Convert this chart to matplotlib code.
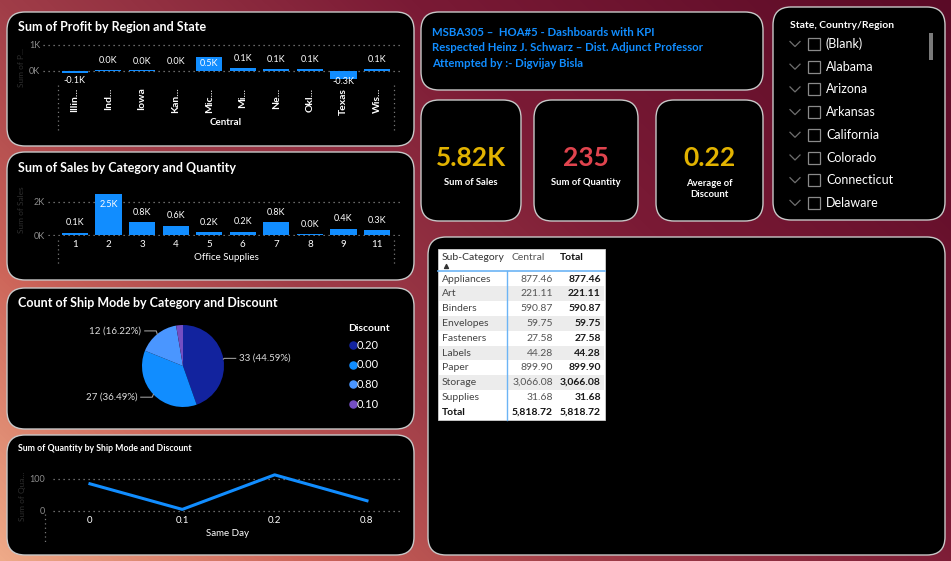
import numpy as np
import matplotlib
matplotlib.use('Agg')
import matplotlib.pyplot as plt
from matplotlib.patches import FancyBboxPatch, Rectangle
from matplotlib.colors import LinearSegmentedColormap

plt.rcParams['font.family'] = ['Lato', 'DejaVu Sans']

W, H = 951, 561
BLUE = '#118DFF'

# ---- data ----
states = ['Illin...', 'Ind...', 'Iowa', 'Kan...', 'Mic...', 'Mi...', 'Ne...', 'Okl...', 'Texas', 'Wis...']
profit_k = [-0.06, 0.03, 0.02, 0.01, 0.54, 0.13, 0.07, 0.08, -0.30, 0.07]

quantity = ['1', '2', '3', '4', '5', '6', '7', '8', '9', '11']
sales_k = [0.12, 2.48, 0.78, 0.57, 0.17, 0.20, 0.78, 0.04, 0.39, 0.29]

discounts = ['0.20', '0.00', '0.80', '0.10']
ship_counts = [33, 27, 12, 2]
disc_colors = ['#12239E', '#118DFF', '#4A96FF', '#744EC2']

line_disc = ['0', '0.1', '0.2', '0.8']
line_qty = [85, 5, 113, 32]

kpi_values = ['5.82K', '235', '0.22']
kpi_labels = ['Sum of Sales', 'Sum of Quantity', 'Average of\nDiscount']
kpi_colors = ['#E2B300', '#E0444E', '#E2B300']

header_lines = ['MSBA305 \u2013  HOA#5 - Dashboards with KPI',
                'Respected Heinz J. Schwarz \u2013 Dist. Adjunct Professor',
                'Attempted by :- Digvijay Bisla']

slicer_items = ['(Blank)', 'Alabama', 'Arizona', 'Arkansas', 'California',
                'Colorado', 'Connecticut', 'Delaware']

sub_cats = ['Appliances', 'Art', 'Binders', 'Envelopes', 'Fasteners',
            'Labels', 'Paper', 'Storage', 'Supplies']
central = [877.46, 221.11, 590.87, 59.75, 27.58, 44.28, 899.90, 3066.08, 31.68]
grand_total = 5818.72

fig = plt.figure(figsize=(W / 100, H / 100), dpi=100)

# background in pixel coordinates
bg = fig.add_axes([0, 0, 1, 1])
bg.set_xlim(0, W)
bg.set_ylim(H, 0)
bg.axis('off')
yy, xx = np.mgrid[0:H, 0:W]
t = 0.62 * xx / W + 0.38 * (1 - yy / H)
cmap = LinearSegmentedColormap.from_list(
    'bg', [(0, '#eeaa88'), (0.2, '#cc6459'), (0.38, '#a03d48'), (0.65, '#7a1a35'), (1, '#5a0a26')])
bg.imshow(t, cmap=cmap, extent=[0, W, H, 0], aspect='auto', zorder=0)


def panel(x0, y0, x1, y1, r=18):
    bg.add_patch(FancyBboxPatch((x0, y0), x1 - x0, y1 - y0,
                                boxstyle=f'round,pad=0,rounding_size={r}',
                                fc='black', ec='#c8c8c8', lw=1.0, zorder=2))


def px_axes(x0, y0, x1, y1):
    ax = fig.add_axes([x0 / W, 1 - y1 / H, (x1 - x0) / W, (y1 - y0) / H])
    ax.set_facecolor('none')
    for s in ax.spines.values():
        s.set_visible(False)
    return ax


def dotted_v(x, y0, y1):
    bg.plot([x, x], [y0, y1], ls=(0, (1, 2.5)), color='#777777', lw=0.9, zorder=3)


panel(7, 12, 414, 146)
panel(7, 152, 414, 280)
panel(7, 288, 414, 429)
panel(7, 435, 414, 555)
panel(421, 12, 763, 90)
panel(421, 100, 521, 221)
panel(534, 100, 638, 221)
panel(656, 100, 763, 221)
panel(773, 7, 945, 220)
panel(428, 237, 945, 555)

# ---- profit by state ----
bg.text(18, 27, 'Sum of Profit by Region and State', color='white', fontsize=9,
        fontweight='bold', va='center', zorder=4)
ax1 = px_axes(43, 40, 403, 80)
x = np.arange(len(states))
ax1.bar(x, profit_k, width=0.78, color=BLUE, zorder=3)
ax1.set_xlim(-0.946, 9.77)
ax1.set_ylim(-0.346, 1.19)
for g in [0, 1]:
    ax1.axhline(g, color='#8a8a8a', ls=(0, (1, 3)), lw=0.9, zorder=1)
ax1.set_yticks([0, 1], ['0K', '1K'])
ax1.tick_params(axis='y', length=0, pad=2, labelsize=6.5, labelcolor='#8c8c8c')
ax1.set_xticks(x, states, rotation=90, fontweight='bold')
ax1.tick_params(axis='x', length=0, pad=5.5, labelsize=7.5, labelcolor='white')
for xi, v in zip(x, profit_k):
    lab = f'{v:.1f}K'
    if v > 0.3:
        ax1.annotate(lab, (xi, v), xytext=(0, -1.5), textcoords='offset points',
                     ha='center', va='top', color='white', fontsize=6.5)
    elif v >= 0:
        ax1.annotate(lab, (xi, v), xytext=(0, 3.5), textcoords='offset points',
                     ha='center', va='bottom', color='white', fontsize=6.5)
    else:
        ax1.text(xi, max(v - 0.32, -0.386), lab, ha='center', va='center',
                 color='white', fontsize=6.5)
bg.text(226, 122, 'Central', color='white', fontsize=7, fontweight='bold',
        ha='center', va='center', zorder=4)
dotted_v(58, 85, 130)
dotted_v(394, 85, 130)
bg.text(22, 67, 'Sum of P...', rotation=90, color='#2e2e2e', fontsize=6,
        ha='center', va='center', zorder=4)

# ---- sales by quantity ----
bg.text(18, 168, 'Sum of Sales by Category and Quantity', color='white', fontsize=9,
        fontweight='bold', va='center', zorder=4)
ax2 = px_axes(48, 185, 403, 236)
ax2.bar(x, sales_k, width=0.78, color=BLUE, zorder=3)
ax2.set_xlim(-0.80, 9.77)
ax2.set_ylim(-0.06, 3.03)
for g in [0, 2]:
    ax2.axhline(g, color='#8a8a8a', ls=(0, (1, 3)), lw=0.9, zorder=1)
ax2.set_yticks([0, 2], ['0K', '2K'])
ax2.tick_params(axis='y', length=0, pad=2, labelsize=6.5, labelcolor='#8c8c8c')
ax2.set_xticks(x, quantity)
ax2.tick_params(axis='x', length=0, pad=3, labelsize=7, labelcolor='white')
for xi, v in zip(x, sales_k):
    lab = f'{v:.1f}K'
    if v > 2:
        ax2.annotate(lab, (xi, v), xytext=(0, -4), textcoords='offset points',
                     ha='center', va='top', color='white', fontsize=6.5)
    else:
        ax2.annotate(lab, (xi, v), xytext=(0, 4), textcoords='offset points',
                     ha='center', va='bottom', color='white', fontsize=6.5)
bg.text(226, 257, 'Office Supplies', color='white', fontsize=7,
        ha='center', va='center', zorder=4)
dotted_v(58, 240, 265)
dotted_v(394, 240, 265)
bg.text(22, 210, 'Sum of Sales', rotation=90, color='#2e2e2e', fontsize=6,
        ha='center', va='center', zorder=4)

# ---- pie ----
bg.text(18, 303, 'Count of Ship Mode by Category and Discount', color='white', fontsize=9,
        fontweight='bold', va='center', zorder=4)
ax4 = px_axes(133, 316, 233, 416)
lim = 50 / 41
ax4.set_xticks([])
ax4.set_yticks([])
wedges, _ = ax4.pie(ship_counts, colors=disc_colors, startangle=90, counterclock=False,
                    radius=1, wedgeprops=dict(lw=0))
total = sum(ship_counts)
for w, c in zip(wedges[:3], ship_counts[:3]):
    ang = np.deg2rad((w.theta1 + w.theta2) / 2)
    px, py = np.cos(ang), np.sin(ang)
    side = 1 if px > 0 else -1
    ex, ey = 1.04 * px, 1.1 * py
    if side > 0:
        ex = 1.0 * px + 0.02
    hx = ex + side * 0.28
    ax4.plot([px, ex, hx], [py, ey, ey], color='#9a9a9a', lw=0.8, clip_on=False)
    ax4.text(hx + side * 0.08, ey, f'{c} ({c / total * 100:.2f}%)', color='#dddddd',
             fontsize=7, ha='left' if side > 0 else 'right', va='center', clip_on=False)
ax4.set_xlim(-lim, lim)
ax4.set_ylim(-lim, lim)
bg.text(348, 328, 'Discount', color='white', fontsize=7.5, fontweight='bold',
        va='center', zorder=4)
for i, (d, col) in enumerate(zip(discounts, disc_colors)):
    yi = 345 + i * 19.7
    bg.scatter([353], [yi], s=26, color=col, zorder=4)
    bg.text(357, yi, d, color='white', fontsize=8, va='center', zorder=4)

# ---- line ----
bg.text(18, 448, 'Sum of Quantity by Ship Mode and Discount', color='white', fontsize=6.3,
        fontweight='bold', va='center', zorder=4)
ax3 = px_axes(53, 465, 403, 515)
ax3.plot(np.arange(len(line_qty)), line_qty, color=BLUE, lw=2.2, zorder=3)
ax3.set_xlim(-0.40, 3.39)
ax3.set_ylim(-12.5, 143.75)
for g in [0, 100]:
    ax3.axhline(g, color='#8a8a8a', ls=(0, (1, 3)), lw=0.9, zorder=1)
ax3.set_yticks([0, 100], ['0', '100'])
ax3.tick_params(axis='y', length=0, pad=6, labelsize=6.5, labelcolor='#8c8c8c')
ax3.set_xticks(np.arange(len(line_disc)), line_disc)
ax3.tick_params(axis='x', length=0, pad=1, labelsize=7, labelcolor='white')
bg.text(228, 533, 'Same Day', color='white', fontsize=7, ha='center', va='center', zorder=4)
dotted_v(45, 514, 542)
bg.text(22, 496, 'Sum of Qua...', rotation=90, color='#2e2e2e', fontsize=6,
        ha='center', va='center', zorder=4)

# ---- header text box ----
for i, line in enumerate(header_lines):
    bg.text(432, 32 + i * 15.5, line, color=BLUE, fontsize=8.2, fontweight='bold',
            va='center', zorder=4)

# ---- KPI cards ----
for cx, val, lab, col in zip([471, 586, 709.5], kpi_values, kpi_labels, kpi_colors):
    bg.text(cx, 158, val, color=col, fontsize=19, fontweight='bold',
            ha='center', va='center', zorder=4)
    bg.text(cx, 182 if '\n' not in lab else 189, lab, color='white', fontsize=6.8,
            fontweight='bold', ha='center', va='center', linespacing=1.3, zorder=4)

# ---- slicer ----
bg.text(790, 25, 'State, Country/Region', color='white', fontsize=7.5,
        fontweight='bold', va='center', zorder=4)
for i, item in enumerate(slicer_items):
    yi = 44 + i * 22.7
    bg.plot([790, 795, 800], [yi - 2.5, yi + 2.5, yi - 2.5], color='#6f6f6f', lw=0.9, zorder=4)
    bg.add_patch(Rectangle((808, yi - 6), 12, 12, fc='none', ec='#8a8a8a', lw=0.9, zorder=4))
    bg.text(826, yi, item, color='white', fontsize=9, va='center', zorder=4)
bg.add_patch(Rectangle((929, 33), 4, 27, fc='#7a7a7a', ec='none', zorder=4))

# ---- matrix table ----
tx0, tx1, ty0, ty1 = 438, 605, 249, 420
bg.add_patch(Rectangle((tx0, ty0), tx1 - tx0, ty1 - ty0, fc='white', ec='#d0d0d0', lw=0.6, zorder=3))
row_h = 14.8
for i in range(len(sub_cats) + 1):
    if i % 2 == 1 and i < len(sub_cats):
        bg.add_patch(Rectangle((tx0 + 1, 271.5 + i * row_h), tx1 - tx0 - 2, row_h,
                               fc='#ececec', ec='none', zorder=3.5))
bg.plot([tx0, tx1], [271, 271], color='#6cb4f5', lw=1.2, zorder=4)
bg.plot([507, 507], [271, ty1], color='#6cb4f5', lw=1.0, zorder=4)
bg.text(442, 257, 'Sub-Category', color='#333333', fontsize=7.5, va='center', zorder=5)
bg.text(512, 257, 'Central', color='#555555', fontsize=7.5, va='center', zorder=5)
bg.text(560, 257, 'Total', color='#111111', fontsize=7.5, fontweight='bold', va='center', zorder=5)
bg.scatter([446], [266], marker='^', s=8, color='#333333', zorder=5)
for i, (sc, v) in enumerate(zip(sub_cats, central)):
    yi = 279 + i * row_h
    bg.text(442, yi, sc, color='#444444', fontsize=7.5, va='center', zorder=5)
    bg.text(553, yi, f'{v:,.2f}', color='#555555', fontsize=7.5, ha='right', va='center', zorder=5)
    bg.text(601, yi, f'{v:,.2f}', color='#1a1a1a', fontsize=7.5, fontweight='bold',
            ha='right', va='center', zorder=5)
yt = 279 + len(sub_cats) * row_h
bg.text(442, yt, 'Total', color='#111111', fontsize=7.5, fontweight='bold', va='center', zorder=5)
bg.text(553, yt, f'{grand_total:,.2f}', color='#111111', fontsize=7.5, fontweight='bold',
        ha='right', va='center', zorder=5)
bg.text(601, yt, f'{grand_total:,.2f}', color='#111111', fontsize=7.5, fontweight='bold',
        ha='right', va='center', zorder=5)

fig.savefig('out.png', dpi=100)
